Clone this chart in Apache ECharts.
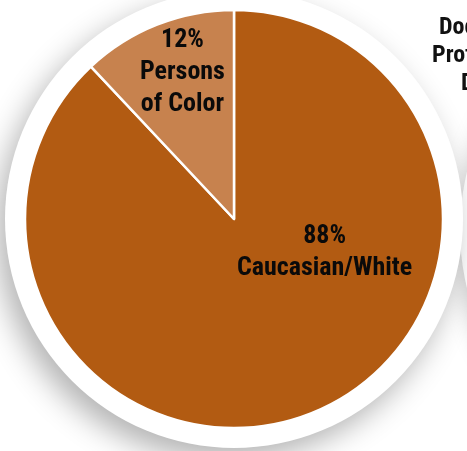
<!DOCTYPE html>
<html>
<head>
<meta charset="utf-8">
<script src="https://cdn.jsdelivr.net/npm/echarts@6/dist/echarts.min.js"></script>
<style>
html,body{margin:0;padding:0;background:#fff;}
#chart{width:467px;height:451px;}
</style>
</head>
<body>
<div id="chart"></div>
<script>
var categories = ['Caucasian/White', 'Persons\nof Color'];
var values = [88, 12];
var sliceColors = ['#B25B12', '#C7824E'];
var sideTitle = ['Doctoral', 'Professional', 'Degree'];

var FONT = '"Liberation Sans Narrow", "Roboto Condensed", "DejaVu Sans Condensed", sans-serif';
var chart = echarts.init(document.getElementById('chart'), null, {renderer: 'canvas'});
var labelShift = [[51, -66], [-12, -47]];

chart.setOption({
  backgroundColor: '#ffffff',
  animation: false,
  graphic: [
    {type: 'circle', z: 0, shape: {cx: 705, cy: 230, r: 245},
     style: {fill: '#ffffff', shadowBlur: 24, shadowColor: 'rgba(0,0,0,0.25)', shadowOffsetX: 0, shadowOffsetY: 8}},
    {type: 'circle', z: 0, shape: {cx: 234, cy: 219, r: 229},
     style: {fill: '#ffffff', shadowBlur: 30, shadowColor: 'rgba(0,0,0,0.30)', shadowOffsetX: -8, shadowOffsetY: 12}},
    {type: 'text', z: 5, left: 439, top: 16, style: {text: sideTitle[0], font: 'bold 24px ' + FONT, fill: '#111'}},
    {type: 'text', z: 5, left: 432, top: 44, style: {text: sideTitle[1], font: 'bold 24px ' + FONT, fill: '#111'}},
    {type: 'text', z: 5, left: 461, top: 72, style: {text: sideTitle[2], font: 'bold 24px ' + FONT, fill: '#111'}}
  ],
  series: [{
    type: 'pie',
    z: 3,
    center: [234, 219],
    radius: [0, 209],
    startAngle: 90,
    clockwise: true,
    avoidLabelOverlap: false,
    label: {
      show: true,
      position: 'inside',
      color: '#0a0a0a',
      fontFamily: FONT,
      fontWeight: 'bold',
      fontSize: 26,
      lineHeight: 32,
      align: 'center',
      formatter: function (p) { return p.value + '%\n' + p.name; }
    },
    labelLayout: function (p) {
      return {dx: labelShift[p.dataIndex][0], dy: labelShift[p.dataIndex][1]};
    },
    labelLine: {show: false},
    itemStyle: {borderColor: '#ffffff', borderWidth: 2.5},
    emphasis: {disabled: true},
    data: categories.map(function (c, i) {
      return {name: c, value: values[i], itemStyle: {color: sliceColors[i]}};
    })
  }]
});
</script>
</body>
</html>
